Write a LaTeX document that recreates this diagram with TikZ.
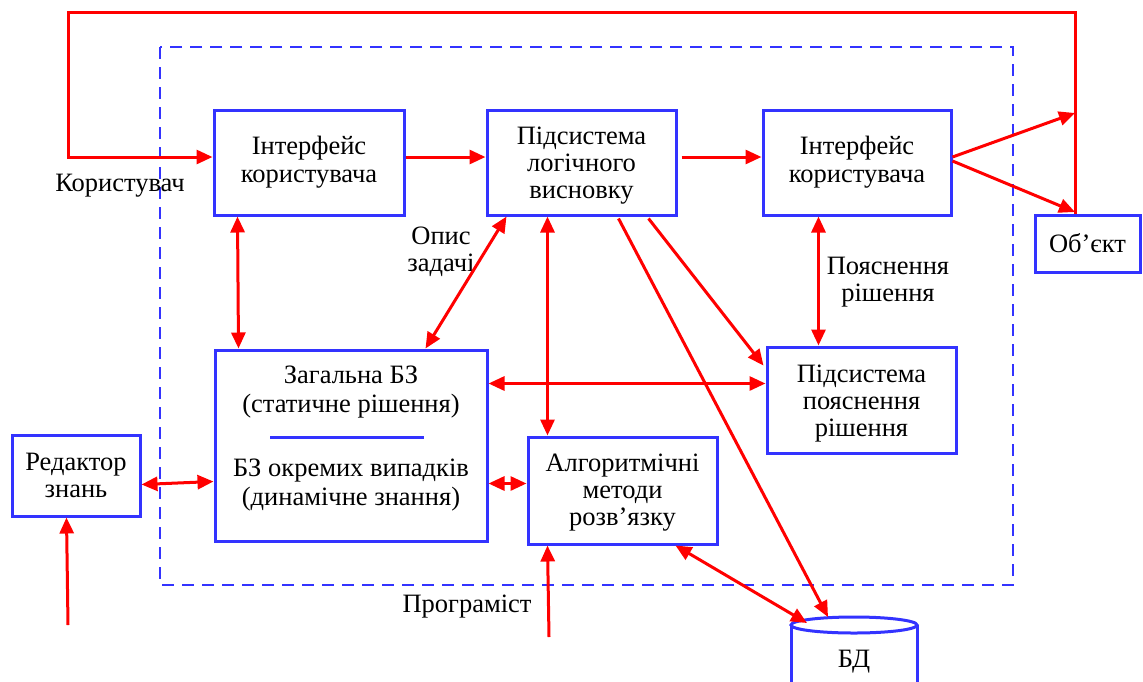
\documentclass[tikz,border=0pt]{standalone}
\usepackage{fontspec}
\setmainfont{Liberation Serif}
\usetikzlibrary{arrows.meta,calc}
\definecolor{boxblue}{RGB}{51,51,255}
\definecolor{linkred}{RGB}{255,0,0}
\begin{document}
\begin{tikzpicture}[x=1pt,y=-1pt,
  every node/.style={font=\fontsize{26.5}{27}\selectfont, text=black},
  blk/.style={draw=boxblue, line width=3pt, align=center, inner sep=0pt},
  lbl/.style={align=center, inner sep=0pt},
  link/.style={draw=linkred, line width=3pt},
  tip/.style={link, -{Triangle[length=16pt,width=14pt]}},
  tips/.style={link, {Triangle[length=16pt,width=14pt]}-{Triangle[length=16pt,width=14pt]}}
]
\useasboundingbox (0,0) rectangle (1143,681);

% system boundary
\draw[boxblue, line width=2.5pt, dash pattern=on 12pt off 8pt] (160,47) rectangle (1013,585);

% blocks
\node[blk, minimum width=190, minimum height=105, font=\fontsize{26.5}{28}\selectfont] (ui1) at (309,162.5) {Інтерфейс\\користувача};
\node[blk, minimum width=189, minimum height=105] (inf) at (581.5,162.5) {};
\node[lbl] (inftext) at (581.5,165.5) {Підсистема\\логічного\\висновку};
\node[blk, minimum width=188, minimum height=105, font=\fontsize{26.5}{28}\selectfont] (ui2) at (857,162.5) {Інтерфейс\\користувача};
\node[blk, minimum width=105, minimum height=57] (obj) at (1087.5,243.5) {Об’єкт};
\node[blk, minimum width=272, minimum height=191] (kb) at (351,445.5) {};
\node[lbl, font=\fontsize{26.5}{29}\selectfont] (kbtop) at (351,392) {Загальна БЗ\\(статичне рішення)};
\node[lbl, font=\fontsize{26.5}{29}\selectfont] (kbbot) at (351,485) {БЗ окремих випадків\\(динамічне знання)};
\draw[boxblue, line width=3pt] (270,437) -- (424,437);
\node[blk, minimum width=189, minimum height=107] (alg) at (622.5,490.5) {};
\node[lbl] (algtext) at (622.5,492.5) {Алгоритмічні\\методи\\розв’язку};
\node[blk, minimum width=189, minimum height=106] (expl) at (861.5,400) {};
\node[lbl] (expltext) at (861.5,404) {Підсистема\\пояснення\\рішення};
\node[blk, minimum width=128, minimum height=81] (ed) at (76,475.5) {Редактор\\знань};

% database cylinder
\node[lbl] (bd) at (854,662) {БД};
\draw[boxblue, line width=3pt] (791,625) -- (791,685) (917,625) -- (917,685);
\draw[boxblue, line width=3pt] (854,625) ellipse [x radius=63, y radius=8];

% labels
\node[lbl] (user) at (120,186) {Користувач};
\node[lbl] (task) at (441,252) {Опис\\задачі};
\node[lbl] (expllbl) at (888,282) {Пояснення\\рішення};
\node[lbl] (prog) at (467,607) {Програміст};

% free ends
\coordinate (loopl) at (68,12);
\coordinate (loopr) at (1075,12);
\coordinate (outup) at (1075,113);
\coordinate (outdn) at (1075,212);
\coordinate (edin) at (68,625);
\coordinate (algin) at (549,637);
\coordinate (bdin1) at (828,617);
\coordinate (bdin2) at (807,623);

% feedback loop from the object back to the user interface
\draw[tip] ([xshift=-12.5pt]obj.north) |- (loopl) |- ([yshift=5.5pt]ui1.west);

% main flow
\draw[tip] ([yshift=5.5pt]ui1.east) -- ([yshift=5.5pt]inf.west);
\draw[tip] ([shift={(4,0)}]inf.east |- 0,157) -- ([yshift=5.5pt]ui2.west);
\draw[tip] ([yshift=5.5pt]ui2.east) -- (outup);
\draw[tip] ([yshift=1.5pt]ui2.east) -- (outdn);

% links between the inner blocks
\draw[tips] ($(ui1.south west)+(25,0)$) -- ($(kb.north west)+(25,0)$);
\draw[tips] ($(inf.south west)+(21,0)$) -- ($(kb.north west)+(212,0)$);
\draw[tips] ($(inf.south west)+(62,0)$) -- ($(alg.north west)+(21,0)$);
\draw[tip] ($(inf.south west)+(133,2)$) -- (bdin1);
\draw[tip] ($(inf.south west)+(163,2)$) -- ($(expl.north west)+(-2,20)$);
\draw[tips] ($(ui2.south west)+(57,0)$) -- ($(expl.north west)+(53,0)$);
\draw[tips] ($(kb.north east)+(0,35)$) -- ($(expl.north west)+(0,38)$);
\draw[tips] ($(ed.south east)+(0,-33)$) -- ($(kb.north west)+(0,133)$);
\draw[tip] (edin) -- ($(ed.south west)+(56,0)$);
\draw[tips] ($(kb.north east)+(0,135)$) -- ($(alg.north west)+(0,48)$);
\draw[tip] (algin) -- ($(alg.south west)+(21,0)$);
\draw[tips] ($(alg.south west)+(149,0)$) -- (bdin2);
\end{tikzpicture}
\end{document}
